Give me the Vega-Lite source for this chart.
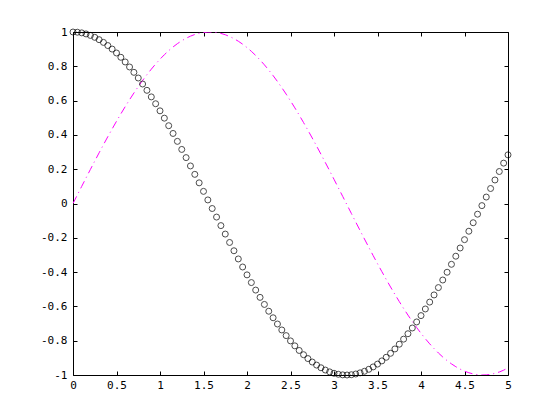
{
  "$schema": "https://vega.github.io/schema/vega-lite/v6.json",
  "width": 435,
  "height": 343,
  "autosize": "none",
  "padding": {"left": 73, "top": 32, "right": 52, "bottom": 45},
  "background": "white",
  "config": {
    "view": {"stroke": "black", "strokeWidth": 1},
    "axis": {
      "domain": false,
      "grid": false,
      "tickColor": "black",
      "tickSize": -4,
      "labelFont": "DejaVu Sans Mono",
      "labelFontSize": 11,
      "labelColor": "black",
      "labelExpr": "'' + datum.value",
      "title": null
    }
  },
  "data": {"values": [
    {"x":0,"c":1,"s":0},{"x":0.05,"c":0.99875,"s":0.04998},{"x":0.1,"c":0.995,"s":0.09983},{"x":0.15,"c":0.98877,"s":0.14944},{"x":0.2,"c":0.98007,"s":0.19867},{"x":0.25,"c":0.96891,"s":0.2474},{"x":0.3,"c":0.95534,"s":0.29552},{"x":0.35,"c":0.93937,"s":0.3429},{"x":0.4,"c":0.92106,"s":0.38942},{"x":0.45,"c":0.90045,"s":0.43497},
    {"x":0.5,"c":0.87758,"s":0.47943},{"x":0.55,"c":0.85252,"s":0.52269},{"x":0.6,"c":0.82534,"s":0.56464},{"x":0.65,"c":0.79608,"s":0.60519},{"x":0.7,"c":0.76484,"s":0.64422},{"x":0.75,"c":0.73169,"s":0.68164},{"x":0.8,"c":0.69671,"s":0.71736},{"x":0.85,"c":0.65998,"s":0.75128},{"x":0.9,"c":0.62161,"s":0.78333},{"x":0.95,"c":0.58168,"s":0.81342},
    {"x":1,"c":0.5403,"s":0.84147},{"x":1.05,"c":0.49757,"s":0.86742},{"x":1.1,"c":0.4536,"s":0.89121},{"x":1.15,"c":0.40849,"s":0.91276},{"x":1.2,"c":0.36236,"s":0.93204},{"x":1.25,"c":0.31532,"s":0.94898},{"x":1.3,"c":0.2675,"s":0.96356},{"x":1.35,"c":0.21901,"s":0.97572},{"x":1.4,"c":0.16997,"s":0.98545},{"x":1.45,"c":0.1205,"s":0.99271},
    {"x":1.5,"c":0.07074,"s":0.99749},{"x":1.55,"c":0.02079,"s":0.99978},{"x":1.6,"c":-0.0292,"s":0.99957},{"x":1.65,"c":-0.07912,"s":0.99687},{"x":1.7,"c":-0.12884,"s":0.99166},{"x":1.75,"c":-0.17825,"s":0.98399},{"x":1.8,"c":-0.2272,"s":0.97385},{"x":1.85,"c":-0.27559,"s":0.96128},{"x":1.9,"c":-0.32329,"s":0.9463},{"x":1.95,"c":-0.37018,"s":0.92896},
    {"x":2,"c":-0.41615,"s":0.9093},{"x":2.05,"c":-0.46107,"s":0.88736},{"x":2.1,"c":-0.50485,"s":0.86321},{"x":2.15,"c":-0.54736,"s":0.8369},{"x":2.2,"c":-0.5885,"s":0.8085},{"x":2.25,"c":-0.62817,"s":0.77807},{"x":2.3,"c":-0.66628,"s":0.74571},{"x":2.35,"c":-0.70271,"s":0.71147},{"x":2.4,"c":-0.73739,"s":0.67546},{"x":2.45,"c":-0.77023,"s":0.63776},
    {"x":2.5,"c":-0.80114,"s":0.59847},{"x":2.55,"c":-0.83005,"s":0.55768},{"x":2.6,"c":-0.85689,"s":0.5155},{"x":2.65,"c":-0.88158,"s":0.47203},{"x":2.7,"c":-0.90407,"s":0.42738},{"x":2.75,"c":-0.9243,"s":0.38166},{"x":2.8,"c":-0.94222,"s":0.33499},{"x":2.85,"c":-0.95779,"s":0.28748},{"x":2.9,"c":-0.97096,"s":0.23925},{"x":2.95,"c":-0.9817,"s":0.19042},
    {"x":3,"c":-0.98999,"s":0.14112},{"x":3.05,"c":-0.99581,"s":0.09146},{"x":3.1,"c":-0.99914,"s":0.04158},{"x":3.15,"c":-0.99999,"s":-0.00841},{"x":3.2,"c":-0.99829,"s":-0.05837},{"x":3.25,"c":-0.99413,"s":-0.1082},{"x":3.3,"c":-0.98748,"s":-0.15775},{"x":3.35,"c":-0.97838,"s":-0.2069},{"x":3.4,"c":-0.9668,"s":-0.25554},{"x":3.45,"c":-0.95282,"s":-0.30354},
    {"x":3.5,"c":-0.93646,"s":-0.35078},{"x":3.55,"c":-0.91775,"s":-0.39715},{"x":3.6,"c":-0.89676,"s":-0.44252},{"x":3.65,"c":-0.87352,"s":-0.48679},{"x":3.7,"c":-0.8481,"s":-0.52984},{"x":3.75,"c":-0.82056,"s":-0.57156},{"x":3.8,"c":-0.79097,"s":-0.61186},{"x":3.85,"c":-0.7594,"s":-0.65063},{"x":3.9,"c":-0.72593,"s":-0.68777},{"x":3.95,"c":-0.69064,"s":-0.72319},
    {"x":4,"c":-0.65364,"s":-0.7568},{"x":4.05,"c":-0.615,"s":-0.78853},{"x":4.1,"c":-0.57482,"s":-0.81828},{"x":4.15,"c":-0.53321,"s":-0.84598},{"x":4.2,"c":-0.49026,"s":-0.87158},{"x":4.25,"c":-0.44609,"s":-0.89499},{"x":4.3,"c":-0.4008,"s":-0.91617},{"x":4.35,"c":-0.35451,"s":-0.93505},{"x":4.4,"c":-0.30733,"s":-0.9516},{"x":4.45,"c":-0.25939,"s":-0.96577},
    {"x":4.5,"c":-0.2108,"s":-0.97753},{"x":4.55,"c":-0.16168,"s":-0.98684},{"x":4.6,"c":-0.11215,"s":-0.99369},{"x":4.65,"c":-0.06235,"s":-0.99805},{"x":4.7,"c":-0.01239,"s":-0.99992},{"x":4.75,"c":0.0376,"s":-0.99929},{"x":4.8,"c":0.0875,"s":-0.99616},{"x":4.85,"c":0.13718,"s":-0.99055},{"x":4.9,"c":0.18651,"s":-0.98245},{"x":4.95,"c":0.23538,"s":-0.9719},
    {"x":5,"c":0.28366,"s":-0.95892}
  ]},
  "resolve": {"axis": {"x": "independent", "y": "independent"}},
  "layer": [
    {
      "mark": {"type": "line", "color": "#ff00ff", "strokeWidth": 1, "strokeDash": [8, 4, 1, 4], "clip": true},
      "encoding": {
        "x": {"field": "x", "type": "quantitative", "scale": {"domain": [0, 5], "nice": false, "zero": false},
              "axis": {"orient": "bottom", "values": [0,0.5,1,1.5,2,2.5,3,3.5,4,4.5,5], "labelPadding": 8, "labelFlush": false}},
        "y": {"field": "s", "type": "quantitative", "scale": {"domain": [-1, 1], "nice": false, "zero": false},
              "axis": {"orient": "left", "values": [-1,-0.8,-0.6,-0.4,-0.2,0,0.2,0.4,0.6,0.8,1], "labelPadding": 10, "labelFlush": false}}
      }
    },
    {
      "mark": {"type": "point", "shape": "circle", "filled": false, "color": "black", "strokeWidth": 1, "size": 36, "clip": false},
      "encoding": {
        "x": {"field": "x", "type": "quantitative", "scale": {"domain": [0, 5], "nice": false, "zero": false},
              "axis": {"orient": "top", "values": [0,0.5,1,1.5,2,2.5,3,3.5,4,4.5,5], "labels": false}},
        "y": {"field": "c", "type": "quantitative", "scale": {"domain": [-1, 1], "nice": false, "zero": false},
              "axis": {"orient": "right", "values": [-1,-0.8,-0.6,-0.4,-0.2,0,0.2,0.4,0.6,0.8,1], "labels": false}}
      }
    }
  ]
}
